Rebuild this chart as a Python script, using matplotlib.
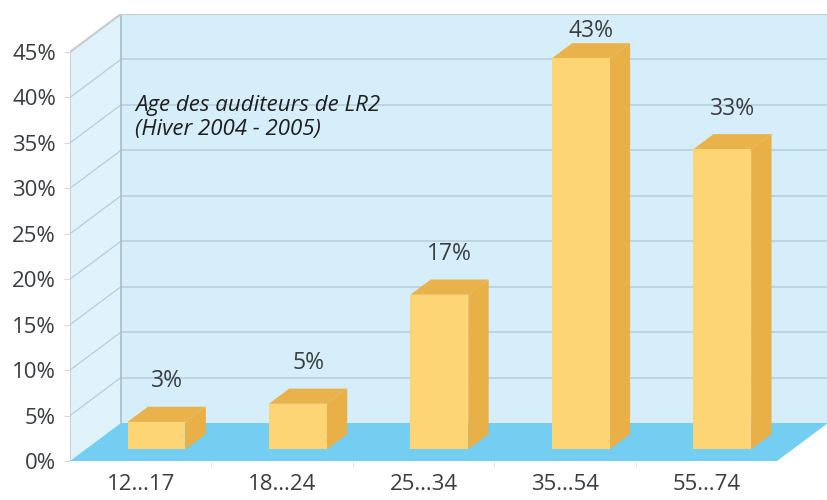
import matplotlib
matplotlib.use('Agg')
import matplotlib.pyplot as plt
from matplotlib.patches import Polygon

plt.rcParams['font.family'] = ['Open Sans', 'DejaVu Sans']

# ── data ──────────────────────────────────────────────────────────────────────
categories = ['12…17', '18…24', '25…34', '35…54', '55…74']
values = [3, 5, 17, 43, 33]
yticks = [0, 5, 10, 15, 20, 25, 30, 35, 40, 45]
title_lines = ['Age des auditeurs de LR2', '(Hiver 2004 - 2005)']

# ── pseudo-3d geometry (data units) ───────────────────────────────────────────
N = len(categories)
YMAX = 45
DX, DY = 0.36, 4.18          # depth vector of the floor / walls
F0, FD = 0.31, 0.40          # bar front position and depth as fraction of floor depth
BW = 0.41                    # bar width

WALL_BACK = '#d6eefa'
WALL_LEFT = '#e0f3fb'
FLOOR = '#74cef2'
GRID = '#b7cddb'
EDGE = '#c6ccd0'
BAR_FRONT = '#fdd574'
BAR_SIDE = '#e8b046'
BAR_TOP = '#eab24a'
TXT = '#3a3d40'

fig = plt.figure(figsize=(8.28, 5), dpi=100)
ax = fig.add_axes([70 / 828, 39 / 500, 758 / 828, 447 / 500])
ax.set_xlim(0, N + DX)
ax.set_ylim(0, YMAX + DY)
for s in ax.spines.values():
    s.set_visible(False)

def poly(pts, color, z, ec='none', lw=0):
    ax.add_patch(Polygon(pts, closed=True, facecolor=color, edgecolor=ec,
                         linewidth=lw, zorder=z))

# walls
poly([(DX, DY), (N + DX, DY), (N + DX, YMAX + DY), (DX, YMAX + DY)], WALL_BACK, 1)
poly([(0, 0), (DX, DY), (DX, YMAX + DY), (0, YMAX)], WALL_LEFT, 1)

# gridlines on back and left walls
for t in yticks[1:]:
    ax.plot([DX, N + DX], [t + DY, t + DY], color=GRID, lw=1.1, zorder=2)
    ax.plot([0, DX], [t, t + DY], color=GRID, lw=0.9, zorder=2)

# frame edges
ax.plot([DX, DX], [DY, YMAX + DY], color='#a8bccb', lw=1.2, zorder=2)
ax.plot([0, 0], [0, YMAX], color=EDGE, lw=1.2, zorder=2)
ax.plot([0, DX, N + DX, N + DX], [YMAX, YMAX + DY, YMAX + DY, DY],
        color=EDGE, lw=1.5, zorder=2)

# floor
poly([(0, 0), (N, 0), (N + DX, DY), (DX, DY)], FLOOR, 3)

# bars
ox, oy = F0 * DX, F0 * DY
bdx, bdy = FD * DX, FD * DY
for i, v in enumerate(values):
    c = i + 0.5 + ox
    xl, xr = c - BW / 2, c + BW / 2
    poly([(xr, oy), (xr + bdx, oy + bdy), (xr + bdx, v + oy + bdy), (xr, v + oy)],
         BAR_SIDE, 4)
    poly([(xl, v + oy), (xr, v + oy), (xr + bdx, v + oy + bdy), (xl + bdx, v + oy + bdy)],
         BAR_TOP, 4)
    poly([(xl, oy), (xr, oy), (xr, v + oy), (xl, v + oy)], BAR_FRONT, 5)
    ly = min(v + oy + bdy + 2.8, YMAX + 2.3)
    ax.text(c + bdx / 2, ly, f'{v}%', ha='center', va='center',
            fontsize=16.5, color=TXT, zorder=6)

# title inside the chart
ax.text(0.46, 37.8, '\n'.join(title_lines), ha='left', va='center',
        fontsize=16, style='italic', color='#1e1e1e', linespacing=1.2, zorder=6)

# axes ticks
ax.set_yticks(yticks)
ax.set_yticklabels([f'{t}%' for t in yticks])
ax.set_xticks([i + 0.5 for i in range(N)])
ax.set_xticklabels(categories)
ax.set_xticks(list(range(1, N)), minor=True)
ax.tick_params(axis='y', length=4, color='#d4d8da', pad=6, labelsize=16, labelcolor=TXT)
ax.tick_params(axis='x', which='major', length=0, pad=9, labelsize=16, labelcolor=TXT)
ax.tick_params(axis='x', which='minor', length=5, color='#e2e4e6')

plt.savefig('out.png', dpi=100)
plt.close()
